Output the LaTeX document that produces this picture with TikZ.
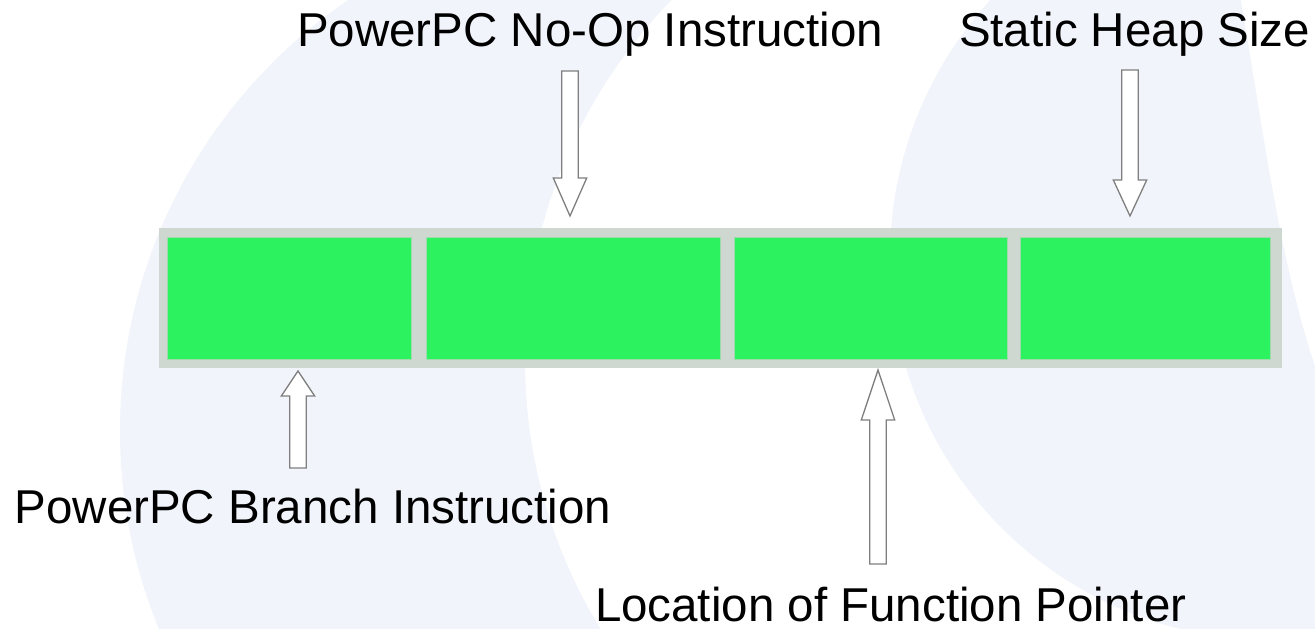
\documentclass[tikz,border=0pt]{standalone}
\usepackage{fontspec}
\setmainfont{Liberation Sans}
\usetikzlibrary{calc}
\definecolor{bgpale}{HTML}{F1F4FA}
\definecolor{bargray}{HTML}{CED8D0}
\definecolor{cellgreen}{HTML}{2CF260}
\definecolor{celledge}{HTML}{9EDCAE}
\definecolor{arrowgray}{HTML}{7F7F7F}
\tikzset{
  labeltext/.style={anchor=base west, inner sep=0pt, outer sep=0pt, font=\fontsize{47.5}{57}\selectfont, text=black},
  barbox/.style={anchor=north west, fill=bargray, draw=none, inner sep=0pt, outer sep=0pt},
  cellbox/.style={anchor=north west, fill=cellgreen, draw=celledge, line width=0.8pt, inner sep=0pt, outer sep=0pt, minimum height=122pt},
  hollowarrow/.style={draw=arrowgray, fill=white, line width=1.3pt, line join=miter}
}
\newcommand{\blockarrow}[4]{% #1 name, #2 tail, #3 tip, #4 head length
  \coordinate (#1h) at ($(#3)!#4!(#2)$);
  \draw[hollowarrow] ($(#2)+(-8.3,0)$) -- ($(#1h)+(-8.3,0)$) -- ($(#1h)+(-16.7,0)$) -- (#3)
    -- ($(#1h)+(16.7,0)$) -- ($(#1h)+(8.3,0)$) -- ($(#2)+(8.3,0)$) -- cycle;
}
\begin{document}
\begin{tikzpicture}[x=1pt, y=-1pt]
\useasboundingbox (0,0) rectangle (1315,629);
% background
\begin{scope}
  \clip (0,0) rectangle (1315,629);
  \fill[white] (0,0) rectangle (1315,629);
  \fill[bgpale] (641,431) circle (521pt);
  \fill[white] (1040,360) circle (515pt);
  \fill[bgpale] (1272,258) circle (382pt);
  \fill[white] (1240,-5) .. controls (1262,120) and (1280,270) .. (1320,380) -- (1330,380) -- (1330,-5) -- cycle;
\end{scope}
% memory bar
\node[barbox, minimum width=1123pt, minimum height=140pt] (bar) at (159,228) {};
\node[cellbox, minimum width=244pt] (c1) at (167,237) {};
\node[cellbox, minimum width=294pt] (c2) at (426,237) {};
\node[cellbox, minimum width=273pt] (c3) at (734,237) {};
\node[cellbox, minimum width=250pt] (c4) at (1020,237) {};
% labels
\node[labeltext] (lnoop) at (297,46.7) {PowerPC No-Op Instruction};
\node[labeltext] (lheap) at (959,46.7) {Static Heap Size};
\node[labeltext] (lbranch) at (14.7,523.3) {PowerPC Branch Instruction};
\node[labeltext] (lfunc) at (595,621.7) {Location of Function Pointer};
% arrow ends
\coordinate (a1t) at (570,71);   \coordinate (a1p) at (570,216);
\coordinate (a2t) at (1130,70);  \coordinate (a2p) at (1130,216);
\coordinate (a3t) at (298,468);  \coordinate (a3p) at (298,371);
\coordinate (a4t) at (878,564);  \coordinate (a4p) at (878,370);
\blockarrow{a1}{a1t}{a1p}{38pt}
\blockarrow{a2}{a2t}{a2p}{36pt}
\blockarrow{a3}{a3t}{a3p}{25pt}
\blockarrow{a4}{a4t}{a4p}{50pt}
\end{tikzpicture}
\end{document}
